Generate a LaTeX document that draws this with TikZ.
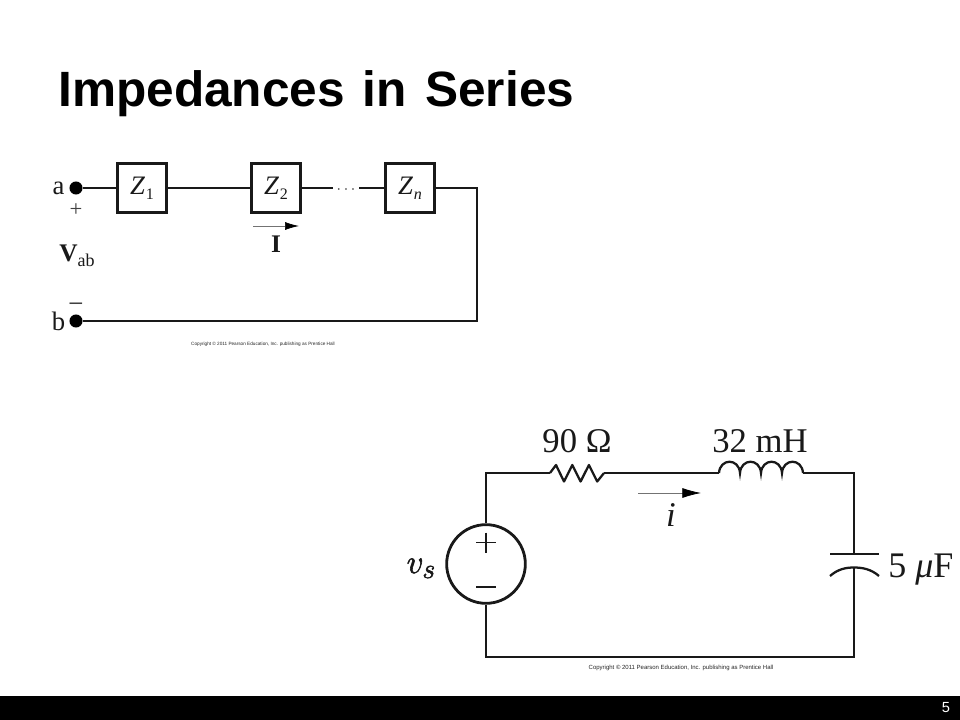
\documentclass[tikz,border=0pt]{standalone}
\usepackage{fontspec}
\setmainfont{Liberation Serif}
\newfontfamily\arialf{Liberation Sans}
\usetikzlibrary{arrows.meta}
\newcommand{\fs}[1]{\fontsize{#1}{#1}\selectfont}
\tikzset{
  px/.style={x=0.75pt,y=-0.75pt},
  wire/.style={line width=1.45pt,black!90},
  wirek/.style={line width=1.7pt,black!90},
  thinw/.style={line width=0.55pt,black!55},
  zbox/.style={draw=black!90,line width=2pt,fill=white,minimum size=37pt,inner sep=0pt},
  tdot/.style={circle,fill=black,minimum size=9.8pt,inner sep=0pt},
  lab/.style={inner sep=0pt,text=black!90},
  ztext/.style={lab,font=\fs{20}},
  val/.style={lab,anchor=base,font=\fs{26}},
  copyr/.style={inner sep=0pt,text=black!85,font=\arialf\fs{3.5}},
  copyrb/.style={inner sep=0pt,text=black!85,font=\arialf\fs{4.5}},
  headtip/.style={-{Latex[length=10.5pt,width=6pt,black]}},
  headtipb/.style={-{Latex[length=14pt,width=7.5pt,black]}},
}
\begin{document}
\begin{tikzpicture}[px]
\useasboundingbox (0,0) rectangle (960,720);
\fill[white] (0,0) rectangle (960,720);
\fill[black] (0,696) rectangle (960,720);
\node[anchor=base west,inner sep=0pt,font=\arialf\bfseries\fs{37.2}] (title) at (58,107) {Impedances\hspace{3pt} in\hspace{3.5pt} Series};
\node[inner sep=0pt,text=white,font=\arialf\fs{11}] (pageno) at (946,708) {5};
% top circuit
\node[tdot] (a) at (76,188) {};
\node[tdot] (b) at (76,321) {};
\node[zbox] (Z1) at (142,188) {};
\node[zbox] (Z2) at (276,188) {};
\node[zbox] (Zn) at (410,188) {};
\node[ztext] (z1t) at (142,188) {\textit{Z}\raisebox{-3.5pt}{\fs{12}\kern0.5pt 1}};
\node[ztext] (z2t) at (276,188) {\textit{Z}\raisebox{-3.5pt}{\fs{12}\kern0.5pt 2}};
\node[ztext] (znt) at (410,188) {\textit{Z}\raisebox{-3.5pt}{\fs{12}\kern0.5pt\textit{n}}};
\node[inner sep=0pt,font=\fs{13},text=black!80] (dots) at (346,190) {$\cdots$};
\coordinate (dl) at (333,188);
\coordinate (dr) at (359,188);
\coordinate (ne) at (477,188);
\coordinate (se) at (477,321);
\draw[wire] (a) -- (Z1);
\draw[wire] (Z1) -- (Z2);
\draw[wire] (Z2) -- (dl);
\draw[wire] (dr) -- (Zn);
\draw[wire] (Zn.east) -- (ne) -- (se) -- (b);
\node[lab,anchor=base,font=\fs{20}] (la) at (58.5,195) {a};
\node[lab,anchor=base,font=\fs{20}] (lb) at (58.5,330) {b};
\node[lab,font=\fs{17},text=black!75] (plus) at (76,210) {+};
\node[lab,font=\fs{17},text=black!75] (minus) at (76,306) {\arialf –};
\node[lab,anchor=base west,font=\fs{19}] (vab) at (59,262) {\textbf{V}\raisebox{-3.5pt}{\fs{13.5}ab}};
\coordinate (ia) at (253,226);
\coordinate (ib) at (299,226);
\draw[thinw,headtip] (ia) -- (ib);
\node[lab,font=\bfseries\fs{19}] (ilab) at (276,244) {I};
\node[copyr] (c1) at (263,344) {Copyright © 2011 Pearson Education, Inc. publishing as Prentice Hall};
% bottom circuit
\node[circle,draw=black!90,line width=2.1pt,minimum size=59pt,inner sep=0pt] (src) at (486,564) {};
\draw[line width=1pt,black!90] (476,542.5) -- (496,542.5) (486,532.5) -- (486,552.5);
\draw[line width=1pt,black!90] (476,587) -- (496,587);
\coordinate (r1) at (550,473);
\coordinate (r2) at (604,473);
\coordinate (l1) at (719,473);
\coordinate (l2) at (803,473);
\coordinate (tl) at (486,473);
\coordinate (tr) at (854,473);
\coordinate (bl) at (486,657);
\coordinate (br) at (854,657);
\coordinate (c1t) at (854,554);
\coordinate (c2t) at (854,567.5);
\draw[wire] (src) -- (tl) -- (r1);
\draw[wirek,line join=round] (r1) -- ++(6,-8) -- ++(8,16.5) -- ++(8.3,-16.5) -- ++(8.3,16.5) -- ++(8.3,-16.5) -- ++(8.3,16.5) -- (r2);
\draw[wire] (r2) -- (l1);
\draw[wirek] (l1) .. controls +(1,-15) and +(-1,-15) .. ++(21,0)
  .. controls +(1,-15) and +(-1,-15) .. ++(21,0)
  .. controls +(1,-15) and +(-1,-15) .. ++(21,0)
  .. controls +(1,-15) and +(-1,-15) .. (l2);
\draw[wire] (l2) -- (tr) -- (c1t);
\draw[wirek] (830,554) -- (879,554);
\draw[wirek] (830,576) .. controls (838,569) and (846,567.5) .. (c2t) .. controls (862,567.5) and (871,569) .. (879,576);
\draw[wire] (c2t) -- (br) -- (bl) -- (src);
\coordinate (ja) at (638,493);
\coordinate (jb) at (701,493);
\draw[thinw,headtipb] (ja) -- (jb);
\node[lab,anchor=base,font=\fs{26}] (ilb) at (671,526) {\textit{i}};
\node[val] (rv) at (577,452) {90 Ω};
\node[val] (lv) at (760,452) {32 mH};
\node[val,anchor=base west,font=\fs{27}] (cv) at (888,577) {5 \textit{μ}F};
\node[lab,anchor=base west,font=\fs{24.88}] (vs) at (406.5,573) {\special{pdf:code q 2 Tr 0.45 w}$v_s$\special{pdf:code Q}};
\node[copyrb] (c2) at (681,668) {Copyright © 2011 Pearson Education, Inc. publishing as Prentice Hall};
\end{tikzpicture}
\end{document}
